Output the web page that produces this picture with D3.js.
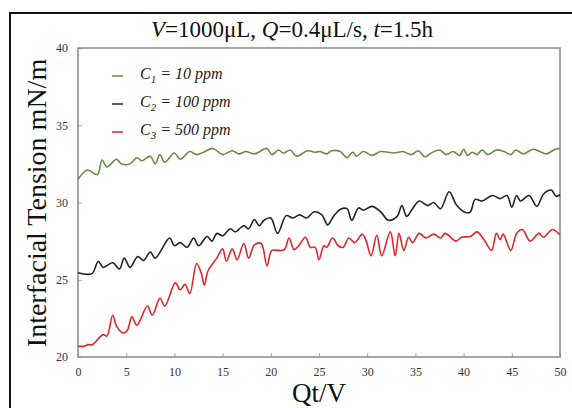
<!DOCTYPE html>
<html>
<head>
<meta charset="utf-8">
<script src="https://cdn.jsdelivr.net/npm/d3@7"></script>
<style>
  html, body { margin: 0; padding: 0; background: #fff; }
  svg { display: block; }
  text { font-family: "Liberation Serif", "Times New Roman", serif; }
</style>
</head>
<body>
<svg id="chart" width="572" height="408"></svg>
<script>
// Interfacial tension vs dimensionless time Qt/V, three concentrations
const seriesNames = ["1", "2", "3"];
const seriesLabels = ["10 ppm", "100 ppm", "500 ppm"];
const seriesColors = ["#6b8a45", "#222222", "#e0262b"];

const c1Points = [
  [0,31.5],[1.0,32.1],[2.0,31.8],[2.5,32.75],[3.0,32.3],[4.0,32.8],[4.5,32.5],[5.4,32.5],
  [6.1,32.9],[6.6,32.7],[7.5,33.0],[8.0,32.5],[8.5,33.1],[9.0,32.6],[10.0,33.2],[10.6,32.8],
  [11.6,33.3],[12.3,33.1],[13.0,33.25],[14.0,33.5],[15.0,33.1],[16.0,33.35],[16.7,33.15],
  [17.4,33.3],[18.3,33.15],[19.6,33.5],[20.1,33.1],[20.8,33.4],[21.3,33.2],[22.0,33.4],
  [22.7,33.0],[23.8,33.35],[24.6,33.25],[25.1,33.3],[25.8,33.15],[26.3,33.35],[27.2,33.3],
  [27.9,32.9],[28.5,33.25],[28.9,33.0],[29.6,33.3],[30.5,33.05],[31.4,33.3],[32.8,33.2],
  [33.7,33.3],[34.6,33.1],[35.3,33.35],[36.0,32.95],[36.5,33.15],[37.5,33.4],[38.2,33.1],
  [38.9,33.3],[39.6,33.05],[40.0,33.45],[40.4,33.05],[40.9,33.25],[41.4,33.1],[41.9,33.4],
  [42.5,33.1],[43.4,33.4],[44.2,33.3],[44.9,33.1],[45.4,33.4],[46.2,33.15],[47.2,33.45],
  [47.9,33.3],[48.6,33.15],[49.5,33.45],[50,33.5]
];

const c2Points = [
  [0,25.45],[1.45,25.4],[2.1,26.2],[2.6,25.8],[3.6,26.1],[4.3,25.7],[4.8,26.4],[5.4,25.8],
  [6.2,26.5],[6.8,26.25],[7.5,26.8],[8.0,26.4],[9.5,27.7],[10.0,27.2],[10.6,27.4],[11.3,27.1],
  [12.0,27.7],[12.5,27.2],[13.4,27.8],[13.9,27.5],[14.4,28.0],[15.0,27.85],[15.8,28.3],
  [16.3,28.1],[17.2,28.5],[17.7,28.3],[18.3,28.9],[18.8,28.5],[19.3,28.85],[20.0,29.0],
  [20.7,28.0],[21.6,29.15],[22.3,29.0],[23.0,29.2],[23.7,29.0],[24.5,29.4],[25.3,29.2],
  [25.9,28.55],[26.5,29.1],[27.2,29.55],[27.9,29.6],[28.4,28.85],[29.1,29.65],[29.6,29.5],
  [30.5,29.75],[31.4,29.4],[32.2,28.85],[33.1,29.1],[33.6,29.8],[34.1,29.1],[34.7,29.6],
  [35.4,30.1],[36.3,29.8],[36.9,30.0],[37.6,29.6],[38.5,30.7],[39.3,29.8],[40.2,29.35],
  [40.7,29.4],[41.2,30.2],[41.9,30.1],[43.0,30.45],[43.8,30.25],[44.5,30.45],[45.0,29.7],
  [45.5,30.45],[45.9,30.1],[46.8,30.45],[47.6,29.75],[48.3,30.55],[49.1,30.8],[49.6,30.4],
  [50,30.5]
];

const c3Points = [
  [0,20.7],[0.7,20.7],[1.0,20.8],[1.5,20.8],[2.6,21.45],[3.0,21.35],[3.6,22.7],[4.0,22.0],
  [4.7,21.55],[5.1,21.7],[5.6,22.6],[6.1,22.05],[7.2,23.3],[7.7,22.7],[8.5,23.8],[9.0,23.3],
  [10.1,24.8],[10.6,24.35],[11.1,24.7],[11.6,24.1],[12.3,26.05],[12.8,25.4],[13.1,24.65],
  [13.5,25.6],[14.4,26.4],[15.0,27.0],[15.4,26.2],[16.0,27.0],[16.5,26.3],[17.2,27.35],
  [17.7,26.4],[18.3,27.25],[19.0,27.35],[19.6,25.9],[20.1,26.9],[20.7,26.9],[21.4,26.95],
  [21.9,27.7],[22.4,26.95],[22.9,27.2],[23.6,27.75],[24.1,27.1],[24.6,27.1],[25.0,26.3],
  [25.5,27.2],[25.8,27.1],[26.4,27.7],[27.0,27.2],[27.5,27.1],[28.1,27.7],[28.7,27.4],
  [29.5,27.95],[29.9,27.5],[30.4,26.55],[31.0,27.9],[31.5,26.55],[32.4,28.1],[32.9,26.55],
  [33.3,28.0],[33.8,26.9],[34.3,27.75],[34.7,27.4],[35.4,28.0],[36.1,27.7],[36.9,27.95],
  [37.6,27.7],[38.1,28.0],[39.2,27.5],[39.8,27.75],[40.7,27.8],[41.4,28.1],[42.1,27.6],
  [42.9,26.9],[43.4,28.0],[43.8,27.6],[44.1,27.95],[44.9,26.9],[45.5,28.0],[46.1,28.25],
  [46.9,27.5],[47.8,28.0],[48.3,27.75],[49.2,28.25],[50,27.9]
];

const xTicks = [0, 5, 10, 15, 20, 25, 30, 35, 40, 45, 50];
const yTicks = [20, 25, 30, 35, 40];

const allSeries = [c1Points, c2Points, c3Points];

const svg = d3.select("#chart");
const plot = { left: 78, right: 560, top: 48, bottom: 357 };

const x = d3.scaleLinear().domain([0, 50]).range([plot.left, plot.right]);
const y = d3.scaleLinear().domain([20, 40]).range([plot.bottom, plot.top]);

// outer frame (continues past the window edges)
svg.append("rect")
  .attr("x", 10).attr("y", 13)
  .attr("width", 620).attr("height", 450)
  .attr("fill", "none").attr("stroke", "#111").attr("stroke-width", 2);

// title
const title = svg.append("text")
  .attr("x", 292).attr("y", 37)
  .attr("text-anchor", "middle")
  .attr("font-size", 23).attr("fill", "#111");
title.append("tspan").attr("font-style", "italic").text("V");
title.append("tspan").text("=1000μL, ");
title.append("tspan").attr("font-style", "italic").text("Q");
title.append("tspan").text("=0.4μL/s, ");
title.append("tspan").attr("font-style", "italic").text("t");
title.append("tspan").text("=1.5h");

// axes with inward ticks
const xAxis = d3.axisBottom(x).tickValues(xTicks).tickSize(-4).tickPadding(10)
  .tickFormat(d3.format("d"));
const yAxis = d3.axisLeft(y).tickValues(yTicks).tickSize(-4).tickPadding(10)
  .tickFormat(d3.format("d"));

const gx = svg.append("g").attr("transform", `translate(0,${plot.bottom})`).call(xAxis);
const gy = svg.append("g").attr("transform", `translate(${plot.left},0)`).call(yAxis);

[gx, gy].forEach(g => {
  g.select(".domain").remove();
  g.selectAll(".tick line").attr("stroke", "#aaa");
  g.selectAll(".tick text")
    .attr("font-family", "Liberation Serif, serif")
    .attr("font-size", 12).attr("fill", "#333");
});

// plot border
svg.append("rect")
  .attr("x", plot.left).attr("y", plot.top)
  .attr("width", plot.right - plot.left).attr("height", plot.bottom - plot.top)
  .attr("fill", "none").attr("stroke", "#888").attr("stroke-width", 1.5);

// curves
const line = d3.line()
  .x(d => x(d[0])).y(d => y(d[1]))
  .curve(d3.curveCatmullRom.alpha(0.5));

allSeries.forEach((pts, i) => {
  svg.append("path")
    .datum(pts)
    .attr("d", line)
    .attr("fill", "none")
    .attr("stroke", seriesColors[i])
    .attr("stroke-width", 1.6)
    .attr("stroke-linejoin", "round");
});

// legend
const legendY = [74, 102, 130];
seriesNames.forEach((n, i) => {
  svg.append("line")
    .attr("x1", 112).attr("x2", 123)
    .attr("y1", legendY[i] + 2).attr("y2", legendY[i] + 2)
    .attr("stroke", seriesColors[i]).attr("stroke-width", 1.5);
  const t = svg.append("text")
    .attr("x", 140).attr("y", legendY[i] + 5)
    .attr("font-size", 16).attr("font-style", "italic").attr("fill", "#222");
  t.append("tspan").text("C");
  t.append("tspan").attr("font-size", 11).attr("dy", 4).text(n);
  t.append("tspan").attr("dy", -4).text(" = " + seriesLabels[i]);
});

// axis titles
svg.append("text")
  .attr("x", plot.left + (plot.right - plot.left) / 2).attr("y", 402)
  .attr("text-anchor", "middle")
  .attr("font-size", 27).attr("fill", "#111")
  .text("Qt/V");

svg.append("text")
  .attr("transform", "translate(46,203) rotate(-90)")
  .attr("text-anchor", "middle")
  .attr("font-size", 28).attr("fill", "#111")
  .text("Interfacial Tension mN/m");
</script>
</body>
</html>
